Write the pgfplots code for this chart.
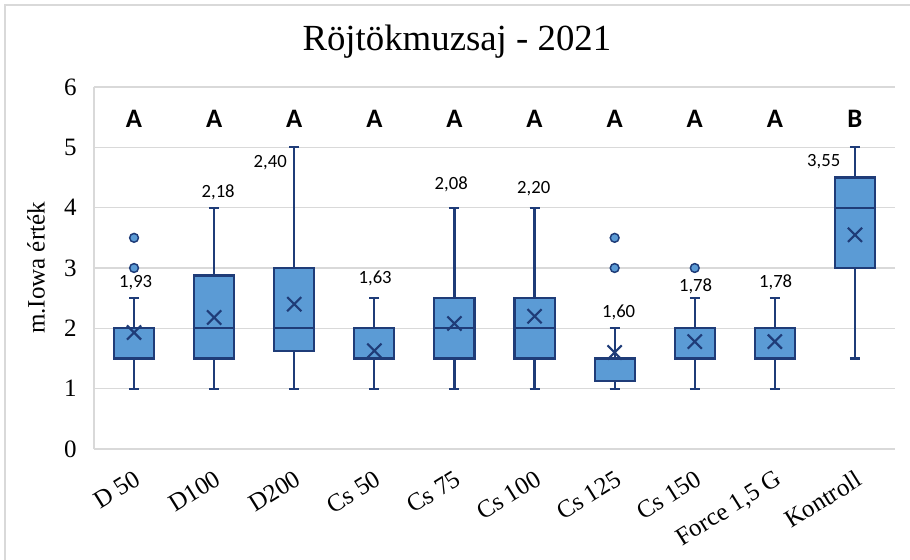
\documentclass[border=0pt]{standalone}
\usepackage{pgfplots}
\pgfplotsset{compat=1.18}
\usepgfplotslibrary{statistics}
\usepackage{fontspec}
\setmainfont{Liberation Serif}
\newfontfamily\calib{Carlito}

\definecolor{boxblue}{HTML}{5B9BD5}
\definecolor{navyc}{HTML}{1F3C78}
\definecolor{gridc}{HTML}{D9D9D9}
\definecolor{framec}{HTML}{D9D9D9}

% one box per treatment
\pgfplotsset{
  mybox/.style={
    boxplot prepared={draw direction=y, #1},
    fill=boxblue, draw=navyc, line width=1.6pt, solid,
    mark=*, mark size=3.3pt,
    mark options={fill=boxblue, draw=navyc, line width=1.1pt},
  },
  boxplot/box extend=0.5,
  boxplot/whisker extend=0.125,
  boxplot/every average/.style={/tikz/mark=x, /tikz/mark size=7.5pt,
    /tikz/draw=navyc, /tikz/line width=1.1pt},
}

\begin{document}
\begin{tikzpicture}
\useasboundingbox (-70.5pt,-83.25pt) rectangle (612pt,336.75pt);
\draw[framec, line width=0.8pt] (-66.75pt,-83.25pt) -- (-66.75pt,333pt) -- (612pt,333pt);
\begin{axis}[
    at={(0,0)}, anchor=south west,
    scale only axis, width=600.75pt, height=271.5pt,
    xmin=-0.5, xmax=9.5, ymin=0, ymax=6,
    enlargelimits=false,
    xtick={0,...,9}, ytick={0,...,6},
    xticklabels={D 50, D100, D200, Cs 50, Cs 75, Cs 100, Cs 125, Cs 150, {Force 1,5 G}, Kontroll},
    axis x line*=bottom, axis y line*=left,
    axis line style={draw=gridc, line width=1.2pt, -},
    major tick length=0pt,
    ymajorgrids, grid style={draw=gridc, line width=1.2pt},
    /pgf/number format/assume math mode=true,
    tick label style={font=\fontsize{18.75}{20}\selectfont},
    yticklabel style={anchor=east, inner sep=0pt, xshift=-12.75pt},
    xticklabel style={anchor=north east, inner sep=0pt, xshift=-0.5pt, yshift=-15pt, rotate=32},
    ylabel={m.Iowa érték},
    every axis y label/.style={at={(axis description cs:-0.0724,0.5)}, rotate=90, anchor=center,
      font=\fontsize{18.75}{20}\selectfont},
    title={Röjtökmuzsaj - 2021},
    title style={at={(axis description cs:0.453,1.08)}, anchor=base,
      font=\fontsize{27.6}{30}\selectfont},
]
\addplot[mybox={draw position=0, lower whisker=1, lower quartile=1.5, median=2, upper quartile=2, upper whisker=2.5, average=1.93}]
  coordinates {(0,3) (0,3.5)};
\addplot[mybox={draw position=1, lower whisker=1, lower quartile=1.5, median=2, upper quartile=2.875, upper whisker=4, average=2.18}]
  coordinates {};
\addplot[mybox={draw position=2, lower whisker=1, lower quartile=1.625, median=2, upper quartile=3, upper whisker=5, average=2.40}]
  coordinates {};
\addplot[mybox={draw position=3, lower whisker=1, lower quartile=1.5, median=1.5, upper quartile=2, upper whisker=2.5, average=1.63}]
  coordinates {};
\addplot[mybox={draw position=4, lower whisker=1, lower quartile=1.5, median=2, upper quartile=2.5, upper whisker=4, average=2.08}]
  coordinates {};
\addplot[mybox={draw position=5, lower whisker=1, lower quartile=1.5, median=2, upper quartile=2.5, upper whisker=4, average=2.20}]
  coordinates {};
\addplot[mybox={draw position=6, lower whisker=1, lower quartile=1.125, median=1.5, upper quartile=1.5, upper whisker=2, average=1.60}]
  coordinates {(6,3) (6,3.5)};
\addplot[mybox={draw position=7, lower whisker=1, lower quartile=1.5, median=2, upper quartile=2, upper whisker=2.5, average=1.78}]
  coordinates {(7,3)};
\addplot[mybox={draw position=8, lower whisker=1, lower quartile=1.5, median=2, upper quartile=2, upper whisker=2.5, average=1.78}]
  coordinates {};
\addplot[mybox={draw position=9, lower whisker=1.5, lower quartile=3, median=4, upper quartile=4.5, upper whisker=5, average=3.55}]
  coordinates {};

% significance letters
\foreach \k/\l in {0/A,1/A,2/A,3/A,4/A,5/A,6/A,7/A,8/A,9/B}{
  \edef\temp{\noexpand\node[font=\noexpand\calib\noexpand\bfseries\noexpand\fontsize{20}{20}\noexpand\selectfont]
    at (axis cs:\k,5.47) {\l};}
  \temp
}
% mean labels
\begin{scope}[every node/.style={font=\calib\fontsize{14}{15}\selectfont}]
\node at (axis cs:0.02,2.75) {1,93};
\node at (axis cs:1.05,4.26) {2,18};
\node at (axis cs:1.70,4.74) {2,40};
\node at (axis cs:3.01,2.82) {1,63};
\node at (axis cs:3.96,4.38) {2,08};
\node at (axis cs:4.99,4.31) {2,20};
\node at (axis cs:6.05,2.27) {1,60};
\node at (axis cs:7.01,2.70) {1,78};
\node at (axis cs:8.01,2.77) {1,78};
\node at (axis cs:8.61,4.76) {3,55};
\end{scope}
\end{axis}
\end{tikzpicture}
\end{document}
